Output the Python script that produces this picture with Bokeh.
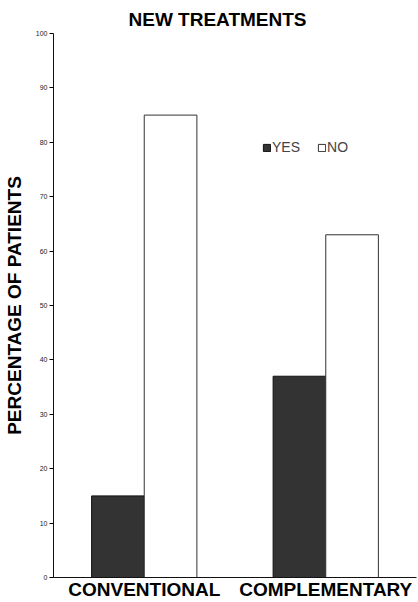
from bokeh.plotting import figure
from bokeh.models import ColumnDataSource, FactorRange, Legend, LegendItem, FixedTicker
from bokeh.transform import dodge
from bokeh.embed import file_html
from bokeh.resources import INLINE

categories = ["CONVENTIONAL", "COMPLEMENTARY"]
yes_values = [15, 37]
no_values = [85, 63]
y_ticks = [0, 10, 20, 30, 40, 50, 60, 70, 80, 90, 100]

title_text = "NEW TREATMENTS"
y_label = "PERCENTAGE OF PATIENTS"

src = ColumnDataSource(dict(cat=categories, yes=yes_values, no=no_values))

p = figure(x_range=FactorRange(*categories), y_range=(0, 100),
           width=418, height=602, output_backend="svg", toolbar_location=None,
           min_border_left=52, min_border_right=2, min_border_top=33, min_border_bottom=25)

p.title.text = title_text
p.title.align = "left"
p.title.text_font = "Liberation Sans"
p.title.text_font_style = "bold"
p.title.text_font_size = "19px"
p.title.text_color = "black"
p.title.standoff = 8
p.title.offset = 75

p.outline_line_color = None
p.xgrid.grid_line_color = None
p.ygrid.grid_line_color = None
p.background_fill_color = "white"
p.x_range.range_padding = 0

bw = 0.29
r_yes = p.vbar(x=dodge("cat", -bw / 2, range=p.x_range), top="yes", width=bw, source=src,
               fill_color="#333333", line_color="#111111", line_width=1)
r_no = p.vbar(x=dodge("cat", bw / 2, range=p.x_range), top="no", width=bw, source=src,
              fill_color="white", line_color="#333333", line_width=1)

# y axis
p.yaxis.ticker = FixedTicker(ticks=y_ticks)
p.yaxis.major_label_text_font = "Liberation Sans"
p.yaxis.major_label_text_font_size = "7px"
p.yaxis.major_label_text_color = "#222222"
p.yaxis.major_tick_out = 4
p.yaxis.major_tick_in = 0
p.yaxis.minor_tick_line_color = None
p.yaxis.major_label_standoff = 2
p.yaxis.axis_line_color = "#111111"
p.yaxis.axis_label = y_label
p.yaxis.axis_label_text_font = "Liberation Sans"
p.yaxis.axis_label_text_font_style = "bold"
p.yaxis.axis_label_text_font_size = "19px"
p.yaxis.axis_label_text_color = "black"
p.yaxis.axis_label_standoff = 8

# x axis
p.xaxis.major_label_text_font = "Liberation Sans"
p.xaxis.major_label_text_font_style = "bold"
p.xaxis.major_label_text_font_size = "19px"
p.xaxis.major_label_text_color = "black"
p.xaxis.major_tick_line_color = None
p.xaxis.major_tick_out = 0
p.xaxis.major_tick_in = 0
p.xaxis.major_label_standoff = 1
p.xaxis.axis_line_color = "#111111"

legend = Legend(items=[LegendItem(label="YES", renderers=[r_yes]),
                       LegendItem(label="NO", renderers=[r_no])],
                orientation="horizontal", location=(209, 421),
                glyph_width=9, glyph_height=9, label_text_font="Liberation Sans",
                label_text_font_size="14px", label_standoff=1, spacing=17,
                padding=0, margin=0, border_line_color=None, background_fill_alpha=0,
                label_height=18)
p.add_layout(legend)

open("out.html", "w").write(file_html(p, INLINE))
